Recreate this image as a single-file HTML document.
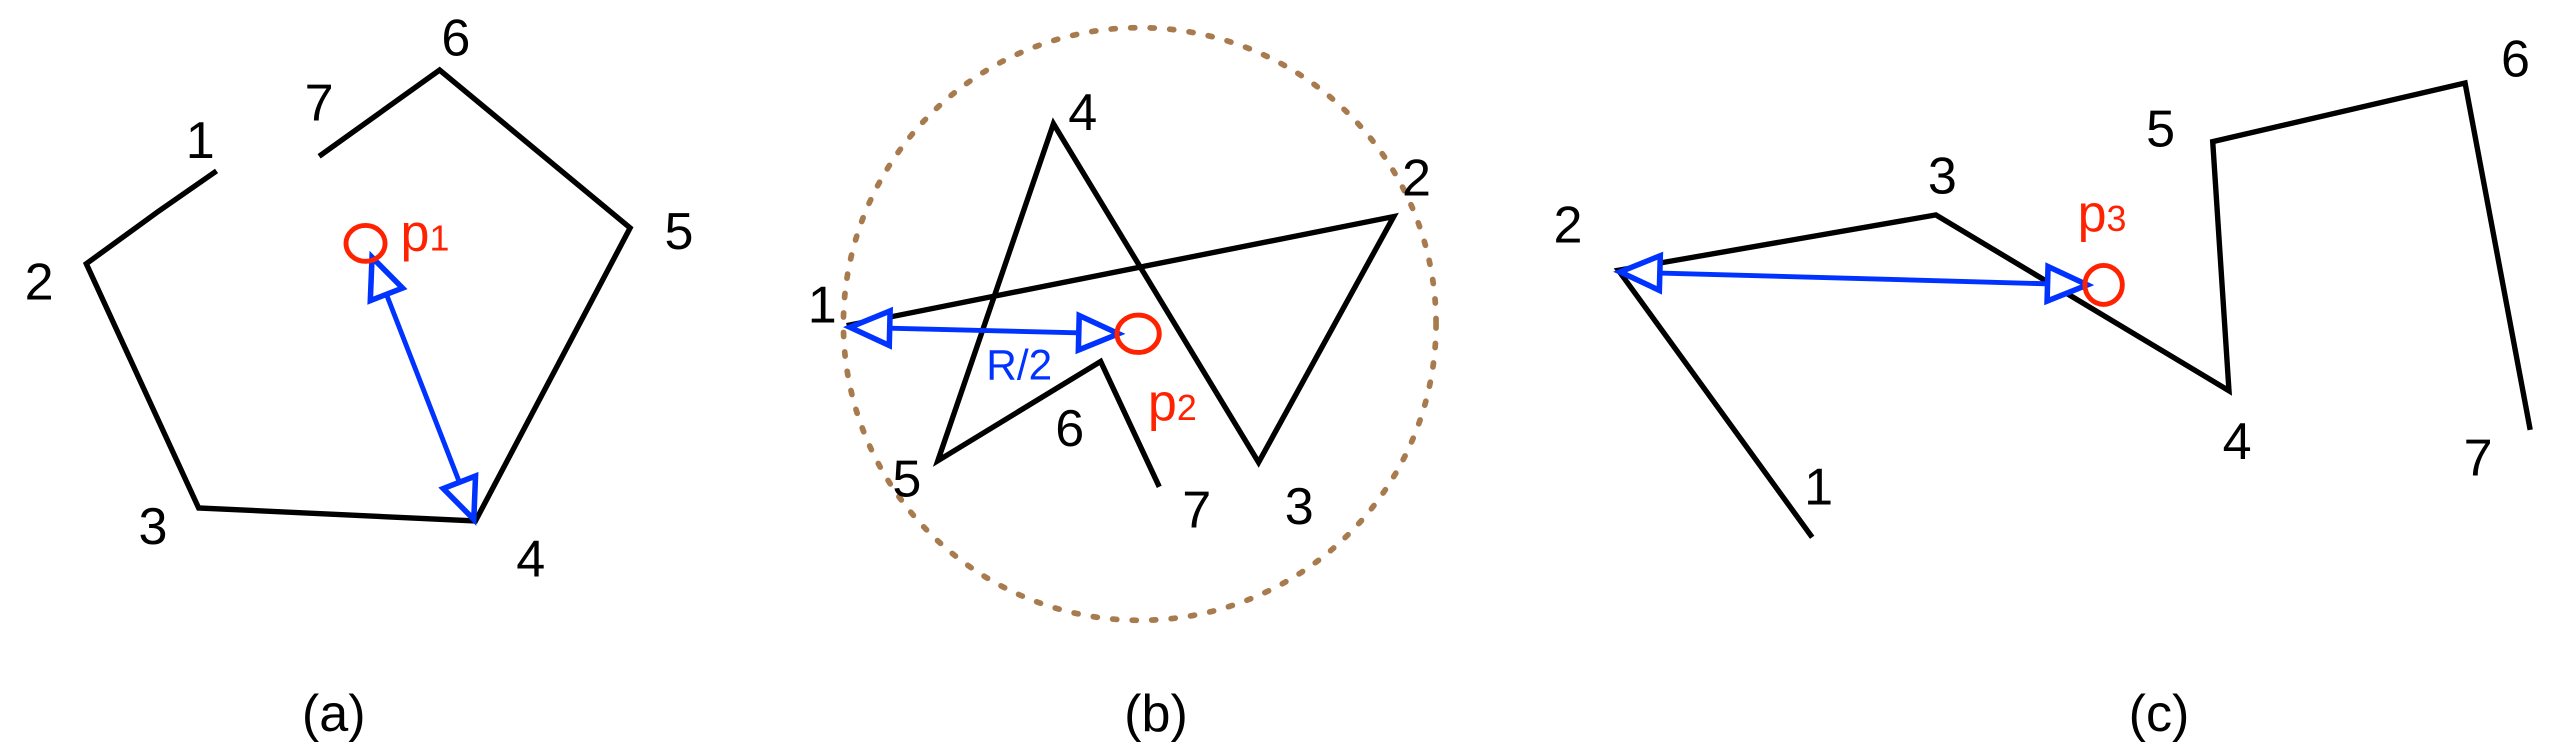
<!DOCTYPE html>
<html><head><meta charset="utf-8"><style>
html,body{margin:0;padding:0;background:#fff;}
svg{display:block;}
text{font-family:"Liberation Sans",sans-serif;}
</style></head><body>
<svg width="2553" height="753" viewBox="0 0 1568 462.5" preserveAspectRatio="none" xmlns="http://www.w3.org/2000/svg">
<defs>
<marker id="ah" markerUnits="userSpaceOnUse" markerWidth="34" markerHeight="34" viewBox="-28 -15 32 30" refX="0" refY="0" orient="auto-start-reverse">
<path d="M0,0 L-23,-10 L-23,10 Z" fill="#fff" stroke="#0033ff" stroke-width="3.2" stroke-linejoin="miter"/>
</marker>
</defs>
<g fill="none" stroke="#000" stroke-width="3.3" stroke-linejoin="miter">
<polyline points="133,105 97,130 53,162 122,312 292,320 387,140 270,43 196,96"/>
<polyline points="520,200 856,133 773,284 647,76 576,283 676,222 712,299"/>
<polyline points="1113,330 994,166 1189,132 1369,240 1359,87 1514,51 1554,264"/>
</g>
<circle cx="700" cy="199" r="182" fill="none" stroke="#a87b4f" stroke-width="3.5" stroke-dasharray="2.5 9.5" stroke-linecap="round"/>
<g stroke="#0033ff" stroke-width="3" fill="none">
<line x1="228.5" y1="158" x2="291" y2="319" marker-start="url(#ah)" marker-end="url(#ah)"/>
<line x1="522" y1="201" x2="687" y2="205" marker-start="url(#ah)" marker-end="url(#ah)"/>
<line x1="995" y1="167" x2="1282" y2="175" marker-start="url(#ah)" marker-end="url(#ah)"/>
</g>
<g fill="none" stroke="#ff2200" stroke-width="3">
<ellipse cx="224.5" cy="149.5" rx="12" ry="11"/>
<ellipse cx="699" cy="205" rx="13" ry="11.5"/>
<ellipse cx="1292" cy="175" rx="11.5" ry="12"/>
</g>
<g font-size="32" fill="#000" text-anchor="middle">
<text x="123" y="97">1</text><text x="24" y="184">2</text><text x="94" y="334">3</text>
<text x="326" y="354">4</text><text x="417" y="153">5</text><text x="280" y="34">6</text><text x="196" y="74">7</text>
<text x="505" y="198">1</text><text x="870" y="120">2</text><text x="798" y="322">3</text>
<text x="665" y="80">4</text><text x="557" y="305">5</text><text x="657" y="274">6</text><text x="735" y="324">7</text>
<text x="1117" y="310">1</text><text x="963" y="149">2</text><text x="1193" y="119">3</text>
<text x="1374" y="282">4</text><text x="1327" y="90">5</text><text x="1545" y="47">6</text><text x="1522" y="292">7</text>
<text x="205" y="449">(a)</text><text x="710" y="449">(b)</text><text x="1326" y="449">(c)</text>
</g>
<g fill="#ff2200" font-size="32">
<text x="246" y="154">p<tspan font-size="22">1</tspan></text>
<text x="705" y="258">p<tspan font-size="22">2</tspan></text>
<text x="1276" y="142">p<tspan font-size="22">3</tspan></text>
</g>
<text x="626" y="233" fill="#0033ff" font-size="26" text-anchor="middle">R/2</text>
</svg>
</body></html>
